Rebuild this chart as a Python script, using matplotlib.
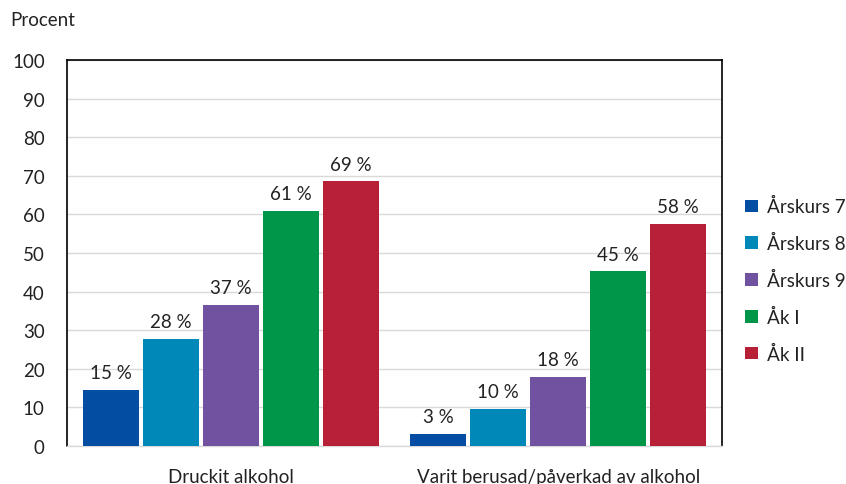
import matplotlib.pyplot as plt
import numpy as np

kategorier = ["Druckit alkohol", "Varit berusad/påverkad av alkohol"]
serier = ["Årskurs 7", "Årskurs 8", "Årskurs 9", "Åk I", "Åk II"]
# värden per serie: [druckit, berusad]
varden = [
    [14.6, 3.2],
    [27.8, 9.7],
    [36.6, 18.0],
    [61.0, 45.3],
    [68.7, 57.6],
]
etiketter = [
    ["15 %", "3 %"],
    ["28 %", "10 %"],
    ["37 %", "18 %"],
    ["61 %", "45 %"],
    ["69 %", "58 %"],
]
farger = ["#034ea2", "#0089b8", "#7152a0", "#00964a", "#b72036"]

plt.rcParams['font.family'] = ['Lato', 'DejaVu Sans']
fs = 13.5

fig = plt.figure(figsize=(8.46, 4.85), dpi=100)
ax = fig.add_axes([0.0792, 0.0784, 0.7742, 0.7956])

x = np.arange(len(kategorier))
steg = 0.1832
bredd = 0.171
for i, (namn, v, lab, f) in enumerate(zip(serier, varden, etiketter, farger)):
    pos = x + (i - 2) * steg
    staplar = ax.bar(pos, v, bredd, color=f, label=namn, zorder=3)
    ax.bar_label(staplar, labels=lab, padding=6, fontsize=fs, color="#222222")

ax.set_xlim(-0.5, 1.5)
ax.set_ylim(0, 100)
ax.set_yticks(range(0, 101, 10))
ax.set_xticks(x)
ax.set_xticklabels(kategorier)
ax.tick_params(axis="y", length=0, pad=16, labelsize=fs, labelcolor="#222222")
ax.tick_params(axis="x", length=0, pad=16, labelsize=fs, labelcolor="#222222")
ax.grid(axis="y", color="#d9d9d9", linewidth=1, zorder=0)

for s in ["top", "left", "right"]:
    ax.spines[s].set_color("black")
    ax.spines[s].set_linewidth(1.2)
ax.spines["bottom"].set_color("#d9d9d9")
ax.spines["bottom"].set_linewidth(1)

fig.text(0.012, 0.957, "Procent", fontsize=fs, color="#222222", va="center")

ax.legend(loc="center left", bbox_to_anchor=(1.01, 0.43), frameon=False,
          fontsize=fs, handlelength=0.65, handleheight=0.65, handletextpad=0.5,
          labelspacing=1.0, labelcolor="#222222")

fig.savefig("out.png", dpi=100)
